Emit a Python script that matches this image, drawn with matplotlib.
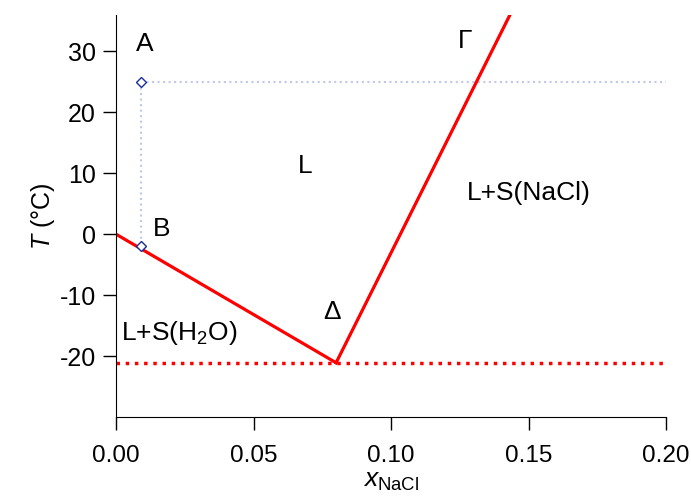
import matplotlib.pyplot as plt

plt.rcParams['font.family'] = ['Liberation Sans', 'DejaVu Sans']
plt.rcParams['mathtext.fontset'] = 'custom'
plt.rcParams['mathtext.rm'] = 'Liberation Sans'
plt.rcParams['mathtext.it'] = 'Liberation Sans:italic'

# liquidus lines
ice_x = [0.0, 0.08]
ice_T = [0.0, -21.1]
salt_x = [0.08, 0.1432]
salt_T = [-21.1, 36.0]
eutectic_T = -21.1

# state points A and B
pts_x = [0.009, 0.009]
pts_T = [25.0, -2.0]

labels = ["A", "B", "L", "\u0394", "L+S(H$_2$O)", "\u0393", "L+S(NaCl)"]
label_x = [0.0105, 0.0165, 0.0688, 0.0785, 0.023, 0.127, 0.150]
label_T = [31.2, 0.8, 11.2, -12.7, -16.2, 31.7, 6.8]

fig = plt.figure(figsize=(6.91, 4.97), dpi=100)
ax = fig.add_axes([0.168, 0.161, 0.796, 0.809])

ax.plot([pts_x[0], 0.2], [pts_T[0], pts_T[0]], ls=':', color='#c0c8ea', lw=1.5)
ax.plot(pts_x, pts_T, ls=':', color='#c0c8ea', lw=1.5)
ax.plot([0, 0.2], [eutectic_T, eutectic_T], ls=':', color='#ff0000', lw=2.5)
ax.plot(ice_x, ice_T, color='#ff0000', lw=2.3)
ax.plot(salt_x, salt_T, color='#ff0000', lw=2.3)
ax.plot(pts_x, pts_T, ls='none', marker='D', ms=5, mfc='white', mec='#1a2ea0', mew=1)

for s, x, y in zip(labels, label_x, label_T):
    ax.text(x, y, s, fontsize=19, ha='center', va='center')

ax.set_xlim(0, 0.2)
ax.set_ylim(-30, 36)
ax.set_xticks([0, 0.05, 0.1, 0.15, 0.2])
ax.set_xticklabels(["0.00", "0.05", "0.10", "0.15", "0.20"])
ax.set_yticks([-20, -10, 0, 10, 20, 30])
ax.set_yticklabels(["-20", "-10", "0", "10", "20", "30"])
ax.spines['top'].set_visible(False)
ax.spines['right'].set_visible(False)
ax.tick_params(direction='out', length=9.5, width=1, labelsize=18)
ax.tick_params(axis='x', pad=11, labelsize=17.5)
ax.tick_params(axis='y', pad=5)
ax.set_xlabel("$\\mathit{x}_{\\mathrm{NaCl}}$", fontsize=19, labelpad=1)
ax.set_ylabel("$\\mathit{T}$ (°C)", fontsize=18, labelpad=2)

fig.savefig("out.png", dpi=100)
